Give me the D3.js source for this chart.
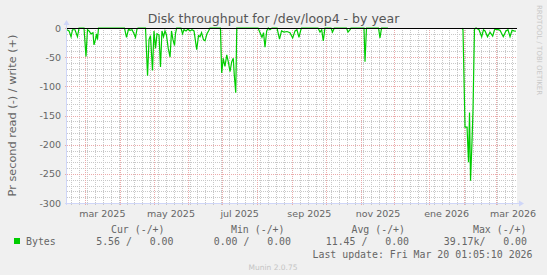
<!DOCTYPE html>
<html><head><meta charset="utf-8">
<script src="https://cdn.jsdelivr.net/npm/d3@7"></script>
<style>
html,body{margin:0;padding:0;background:#F0F0F0;}
svg{display:block;}
text{font-family:"DejaVu Sans",sans-serif;}
.mono{font-family:"DejaVu Sans Mono",monospace;white-space:pre;}
</style></head>
<body>
<script>
// ---- data ----
const startDate = new Date(2025, 1, 13, 1, 5, 10);
const endDate = new Date(2026, 2, 20, 1, 5, 10);
// days since startDate (null value = unknown)
const dayOffsets = [0,1.8,3.6,4.9,7.1,9.3,10.7,15.1,16.9,18.2,19.6,21.3,23.1,24,25.3,26.2,27.1,28,
 51.1,52.9,54.7,56,57.8,59.6,60.9,62.2,63.1,
 69.8,71.6,72.9,74.2,76,77.3,78.7,80,81.8,83.1,84.4,85.8,87.1,88.4,90,91.6,92.9,94.2,95.6,96.4,97.5,
 101.3,102.7,104,105.8,107.6,109.3,111.1,112.9,115.3,116.9,118.2,119.6,121.3,122.7,124.4,125.8,127.1,
 136.4,137.5,138.9,140.4,142,143.4,144.9,146.4,147.8,148.7,150,150.9,
 169.8,171.6,173.3,174.7,176,177.5,178.9,180.4,182.2,
 186.7,188.9,190.7,192.9,195.6,198.2,200.6,202.7,204.4,206.2,207.6,208.4,
 223.1,224.9,226.4,227.8,229.3,234.7,236,237.6,248.4,249.8,251.6,252.4,
 264,264.9,266.2,276.9,278.2,279.6,285.3,
 318,
 350.8,352,353.8,355.6,356.9,357.8,358.7,360,360.9,362.2,363.6,366.2,368.6,370.2,371.6,373.8,376,378.4,380,
 382.2,384.9,387.8,390.2,392,393.8,395.6,397.3,399.1];
const readValues = [-3,-5,-15,-3,-3,-15,0,0,-49,-3,-5,-10,-8,-29,-20,-10,-20,0,
 0,-16,-2,-4,-3,-10,-16,-2,0,
 0,-82,-20,-13,-73,-5,-35,-10,-12,-67,-5,-15,-5,-12,-35,-50,-5,-20,-30,-10,0,
 0,-10,-3,-5,-2,-5,-3,-5,-37,-13,-15,-8,-20,-22,-10,-5,0,
 0,-77,-52,-66,-46,-58,-75,-58,-52,-81,-111,0,
 0,-8,-16,-8,-33,-5,0,-3,0,
 0,-19,-5,-7,-6,-8,-17,-5,-3,-16,-5,0,
 0,-7,-3,-22,0,0,-7,0,0,-7,-3,0,
 0,-58,0,0,-17,0,0,
 null,
 0,-3,-170,-170,-230,-145,-262,-195,-140,-2,0,-3,-15,-3,-5,-15,-7,-14,-3,
 -2,-4,-15,-5,-3,-15,-4,-5,-5.56];
const yTicks = [0,-50,-100,-150,-200,-250,-300];
const xLabels = ["mar 2025","may 2025","jul 2025","sep 2025","nov 2025","ene 2026","mar 2026"];
const xLabelMonths = [new Date(2025,2,1),new Date(2025,4,1),new Date(2025,6,1),new Date(2025,8,1),new Date(2025,10,1),new Date(2026,0,1),new Date(2026,2,1)];
const seriesName = "Bytes";
const legendHeaders = ["Cur (-/+)","Min (-/+)","Avg (-/+)","Max (-/+)"];
const legendValues = ["5.56 /   0.00","0.00 /   0.00","11.45 /   0.00","39.17k/   0.00"];
const lastUpdate = "Last update: Fri Mar 20 01:05:10 2026";

// ---- layout ----
const W = 547, H = 275;
const L = 67, R = 517, T = 28, B = 203;
const svg = d3.select("body").append("svg").attr("width", W).attr("height", H);
svg.append("rect").attr("width", W).attr("height", H).attr("fill", "#F0F0F0");

const x = d3.scaleTime().domain([startDate, endDate]).range([L, R]);
const y = d3.scaleLinear().domain([-300, 0]).range([B, T]);

svg.append("rect").attr("x", L).attr("y", T).attr("width", R - L).attr("height", B - T).attr("fill", "#fff");

const grid = svg.append("g");
// minor horizontal
d3.range(-300, 1, 10).filter(v => v % 50 !== 0).forEach(v => {
  grid.append("line").attr("x1", L).attr("x2", R).attr("y1", Math.round(y(v)) + 0.5).attr("y2", Math.round(y(v)) + 0.5)
    .attr("stroke", "#c8c8c8").attr("stroke-dasharray", "1,1");
});
// minor vertical (weekly)
d3.timeMonday.range(startDate, endDate).forEach(d => {
  const px = Math.round(x(d)) + 0.5;
  grid.append("line").attr("x1", px).attr("x2", px).attr("y1", T).attr("y2", B + 2)
    .attr("stroke", "#c8c8c8").attr("stroke-dasharray", "1,1");
});
// major vertical (monthly)
d3.timeMonth.range(startDate, endDate).forEach(d => {
  const px = Math.round(x(d)) + 0.5;
  grid.append("line").attr("x1", px).attr("x2", px).attr("y1", T).attr("y2", B + 3)
    .attr("stroke", "#ebaaaa").attr("stroke-dasharray", "1,1");
});
// major horizontal
yTicks.forEach(v => {
  grid.append("line").attr("x1", L - 2).attr("x2", R).attr("y1", Math.round(y(v)) + 0.5).attr("y2", Math.round(y(v)) + 0.5)
    .attr("stroke", "#ebaaaa").attr("stroke-dasharray", "1,1");
});

// data line
const pts = dayOffsets.map((d, i) => ({ t: new Date(startDate.getTime() + d * 864e5), v: readValues[i] }));
const line = d3.line().defined(p => p.v !== null).x(p => x(p.t)).y(p => y(p.v));
svg.append("path").datum(pts).attr("d", line).attr("fill", "none").attr("stroke", "#00CC00").attr("stroke-width", 1.2);

// zero line
svg.append("line").attr("x1", L).attr("x2", R).attr("y1", y(0) + 0.5).attr("y2", y(0) + 0.5).attr("stroke", "#000").attr("stroke-width", 1);

// axes
svg.append("line").attr("x1", L - 0.5).attr("x2", L - 0.5).attr("y1", B + 2).attr("y2", T - 4).attr("stroke", "#CFD6F8");
svg.append("path").attr("d", `M${L - 3.5},${T - 3} L${L + 2.5},${T - 3} L${L - 0.5},${T - 8} Z`).attr("fill", "#CFD6F8");
svg.append("line").attr("x1", L - 2).attr("x2", R + 3).attr("y1", B + 0.5).attr("y2", B + 0.5).attr("stroke", "#CFD6F8");
svg.append("path").attr("d", `M${R + 2},${B - 2.5} L${R + 2},${B + 3.5} L${R + 7},${B + 0.5} Z`).attr("fill", "#CFD6F8");

// y tick labels
svg.append("g").selectAll("text").data(yTicks).join("text")
  .attr("x", 61).attr("y", v => y(v) + 3.5).attr("text-anchor", "end")
  .attr("font-size", 9.5).attr("fill", "#666").text(v => v);

// x labels
svg.append("g").selectAll("text").data(xLabels).join("text")
  .attr("x", (s, i) => x(new Date(xLabelMonths[i].getTime() + 15.5 * 864e5)))
  .attr("y", 216.5).attr("text-anchor", "middle").attr("font-size", 9.5).attr("fill", "#666").text(s => s);

// title
svg.append("text").attr("x", 273.5).attr("y", 23).attr("text-anchor", "middle").attr("font-size", 12.5).attr("fill", "#555")
  .text("Disk throughput for /dev/loop4 - by year");

// y axis title
svg.append("text").attr("transform", `translate(15.5,${(T + B) / 2}) rotate(-90)`).attr("text-anchor", "middle")
  .attr("font-size", 11.3).attr("fill", "#666").text("Pr second read (-) / write (+)");

// watermark
svg.append("text").attr("transform", "translate(537,5) rotate(90)").attr("text-anchor", "start")
  .attr("font-size", 7).attr("fill", "#c8c8c8").text("RRDTOOL / TOBI OETIKER");

// legend
const hdrEnds = [164.5, 284.5, 405, 526.5];
const valEnds = [173.5, 291, 409, 527];
legendHeaders.forEach((h, i) => {
  svg.append("text").attr("class", "mono").attr("x", hdrEnds[i]).attr("y", 232.5).attr("text-anchor", "end")
    .attr("font-size", 9.9).attr("fill", "#666").text(h);
});
svg.append("rect").attr("x", 14).attr("y", 238).attr("width", 6).attr("height", 6).attr("fill", "#00CC00");
svg.append("text").attr("class", "mono").attr("x", 26).attr("y", 245).attr("font-size", 9.9).attr("fill", "#666").text(seriesName);
legendValues.forEach((v, i) => {
  svg.append("text").attr("class", "mono").attr("x", valEnds[i]).attr("y", 245).attr("text-anchor", "end")
    .attr("font-size", 9.9).attr("fill", "#666").text(v);
});
svg.append("text").attr("class", "mono").attr("x", 532.5).attr("y", 258).attr("text-anchor", "end")
  .attr("font-size", 9.9).attr("fill", "#666").text(lastUpdate);
svg.append("text").attr("x", 273).attr("y", 270).attr("text-anchor", "middle").attr("font-size", 7.5)
  .attr("fill", "#c4c4c4").text("Munin 2.0.75");
</script>
</body></html>
